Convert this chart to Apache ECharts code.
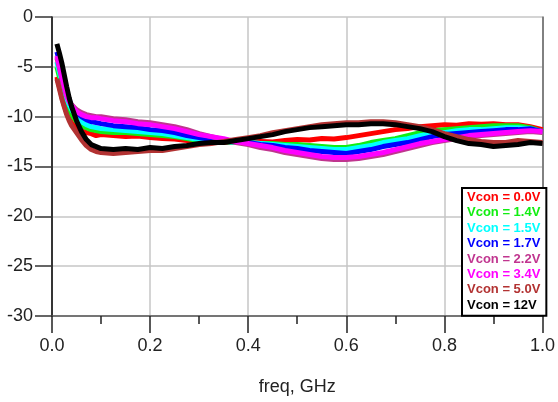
<!DOCTYPE html>
<html>
<head>
<meta charset="utf-8">
<script src="https://cdn.jsdelivr.net/npm/echarts@6/dist/echarts.min.js"></script>
<style>
  html, body { margin: 0; padding: 0; background: #fff; }
  #chart { width: 558px; height: 402px; }
</style>
</head>
<body>
<div id="chart"></div>
<script>
// frequency points, GHz
var freq = [0.01, 0.015, 0.02, 0.025, 0.03, 0.035, 0.04, 0.05, 0.06, 0.07, 0.08, 0.09, 0.1,
    0.125, 0.15, 0.175, 0.2, 0.225, 0.25, 0.275, 0.3, 0.325, 0.35, 0.375, 0.4,
    0.425, 0.45, 0.475, 0.5, 0.525, 0.55, 0.575, 0.6, 0.625, 0.65, 0.675, 0.7,
    0.725, 0.75, 0.775, 0.8, 0.825, 0.85, 0.875, 0.9, 0.925, 0.95, 0.975, 1.0];

// S-parameter (dB) per control voltage
var v00 = [-6.0, -7.0, -8.0, -8.9, -9.6, -10.2, -10.6, -11.1, -11.4, -11.6, -11.7, -11.9, -11.8,
    -11.9, -12.0, -11.95, -12.1, -12.2, -12.25, -12.4, -12.5, -12.45, -12.6, -12.6, -12.6,
    -12.5, -12.55, -12.4, -12.3, -12.35, -12.2, -12.25, -12.1, -11.9, -11.7, -11.5, -11.3,
    -11.2, -11.0, -10.9, -10.8, -10.85, -10.7, -10.75, -10.7, -10.8, -10.8, -11.0, -11.3];
var v14 = [-5.0, -6.0, -7.0, -7.9, -8.7, -9.3, -9.8, -10.5, -10.9, -11.1, -11.3, -11.4, -11.5,
    -11.6, -11.6, -11.7, -11.8, -11.9, -12.0, -12.2, -12.4, -12.5, -12.5, -12.6, -12.6,
    -12.7, -12.7, -12.8, -12.8, -12.9, -13.0, -13.1, -13.1, -12.9, -12.6, -12.4, -12.2,
    -11.9, -11.6, -11.4, -11.3, -11.2, -11.1, -11.0, -10.9, -10.9, -10.9, -11.1, -11.5];
var v15 = [-4.5, -5.5, -6.5, -7.4, -8.2, -8.8, -9.3, -10.0, -10.5, -10.8, -11.0, -11.1, -11.2,
    -11.3, -11.4, -11.5, -11.6, -11.7, -11.9, -12.1, -12.3, -12.4, -12.5, -12.6, -12.6,
    -12.7, -12.8, -12.9, -13.0, -13.1, -13.2, -13.3, -13.3, -13.1, -12.9, -12.6, -12.4,
    -12.2, -11.9, -11.7, -11.6, -11.4, -11.3, -11.3, -11.2, -11.1, -11.1, -11.2, -11.5];
var v17 = [-3.5, -4.4, -5.5, -6.6, -7.6, -8.3, -8.9, -9.6, -10.0, -10.3, -10.5, -10.6, -10.7,
    -10.9, -11.0, -11.1, -11.3, -11.4, -11.6, -11.9, -12.1, -12.3, -12.4, -12.5, -12.6,
    -12.8, -12.9, -13.1, -13.2, -13.4, -13.5, -13.6, -13.7, -13.5, -13.3, -13.0, -12.8,
    -12.6, -12.3, -12.0, -11.8, -11.7, -11.6, -11.5, -11.4, -11.3, -11.3, -11.2, -11.5];
var v22 = [-4.1, -5.1, -6.2, -7.1, -7.9, -8.4, -8.8, -9.3, -9.6, -9.8, -9.9, -10.0, -10.0,
    -10.2, -10.3, -10.5, -10.6, -10.8, -11.0, -11.3, -11.7, -12.0, -12.3, -12.6, -12.8,
    -13.1, -13.3, -13.6, -13.8, -14.0, -14.2, -14.3, -14.3, -14.2, -14.0, -13.8, -13.5,
    -13.2, -12.9, -12.6, -12.4, -12.2, -12.0, -11.9, -11.8, -11.7, -11.6, -11.5, -11.6];
var v34 = [-3.9, -4.9, -6.0, -7.0, -7.9, -8.5, -8.9, -9.5, -9.8, -10.0, -10.1, -10.1, -10.2,
    -10.4, -10.5, -10.7, -10.8, -11.0, -11.2, -11.5, -11.8, -12.0, -12.2, -12.5, -12.7,
    -12.9, -13.1, -13.4, -13.6, -13.8, -14.0, -14.1, -14.1, -14.0, -13.8, -13.6, -13.3,
    -13.0, -12.7, -12.5, -12.3, -12.1, -11.9, -11.8, -11.7, -11.6, -11.5, -11.4, -11.5];
var v50 = [-6.2, -7.2, -8.2, -9.0, -9.8, -10.4, -10.9, -11.6, -12.3, -12.9, -13.3, -13.5, -13.6,
    -13.7, -13.6, -13.5, -13.4, -13.4, -13.2, -13.0, -12.8, -12.7, -12.5, -12.3, -12.1,
    -11.9, -11.6, -11.4, -11.2, -11.0, -10.8, -10.7, -10.6, -10.6, -10.5, -10.5, -10.6,
    -10.8, -11.0, -11.3, -11.7, -12.0, -12.3, -12.5, -12.6, -12.6, -12.4, -12.5, -12.6];
var v12 = [-2.7, -3.6, -4.6, -5.8, -7.0, -8.1, -9.0, -10.4, -11.5, -12.3, -12.8, -13.0, -13.2,
    -13.3, -13.2, -13.3, -13.1, -13.2, -13.0, -12.9, -12.7, -12.6, -12.6, -12.4, -12.2,
    -12.0, -11.8, -11.5, -11.3, -11.1, -11.0, -10.9, -10.8, -10.8, -10.7, -10.7, -10.8,
    -11.0, -11.2, -11.5, -12.0, -12.4, -12.7, -12.8, -13.0, -12.9, -12.8, -12.6, -12.7];

var names = ['Vcon = 0.0V', 'Vcon = 1.4V', 'Vcon = 1.5V', 'Vcon = 1.7V',
    'Vcon = 2.2V', 'Vcon = 3.4V', 'Vcon = 5.0V', 'Vcon = 12V'];
var colors = ['#ff0000', '#11ee11', '#00ffff', '#0000ff',
    '#c0358f', '#ff00ff', '#b23232', '#000000'];
var values = [v00, v14, v15, v17, v22, v34, v50, v12];

var xTicks = [0, 0.2, 0.4, 0.6, 0.8, 1.0];
var yTicks = [-30, -25, -20, -15, -10, -5, 0];

function pairs(ys) {
    var out = [];
    for (var i = 0; i < freq.length; i++) {
        out.push([freq[i], ys[i]]);
    }
    return out;
}

var chart = echarts.init(document.getElementById('chart'));

var series = [];
var legendData = [];
for (var i = 0; i < names.length; i++) {
    series.push({
        name: names[i],
        type: 'line',
        showSymbol: false,
        symbol: 'none',
        color: colors[i],
        lineStyle: { width: 5, color: colors[i] },
        data: pairs(values[i])
    });
    legendData.push({ name: names[i], textStyle: { color: colors[i] } });
}

var option = {
    animation: false,
    textStyle: { fontFamily: 'Liberation Sans, Arial, sans-serif' },
    grid: { left: 52, right: 15, top: 17, bottom: 86 },
    legend: {
        orient: 'vertical',
        left: 462,
        top: 188,
        icon: 'none',
        itemWidth: 0,
        itemHeight: 15,
        itemGap: 0.4,
        padding: [2, 6, 3, 0],
        backgroundColor: '#fff',
        borderColor: '#000',
        borderWidth: 2,
        selectedMode: false,
        textStyle: { fontSize: 13, fontWeight: 'bold', lineHeight: 15 },
        data: legendData
    },
    xAxis: {
        type: 'value',
        position: 'bottom',
        min: xTicks[0],
        max: xTicks[xTicks.length - 1],
        interval: 0.2,
        name: 'freq, GHz',
        nameLocation: 'middle',
        nameGap: 62,
        nameTextStyle: { fontSize: 18, color: '#222' },
        axisLine: { show: true, onZero: false, lineStyle: { color: '#555', width: 1.5 } },
        axisTick: { show: true, inside: false, length: 17, lineStyle: { color: '#222', width: 1.5 } },
        minorTick: { show: true, splitNumber: 2, length: 8, lineStyle: { color: '#222', width: 1.5 } },
        axisLabel: {
            fontSize: 18, color: '#222', margin: 21, inside: false,
            formatter: function (v) { return v.toFixed(1); }
        },
        splitLine: { show: true, lineStyle: { color: '#c6c6c6', width: 1.5 } }
    },
    yAxis: [{
        type: 'value',
        position: 'left',
        min: yTicks[0],
        max: yTicks[yTicks.length - 1],
        interval: 5,
        axisLine: { show: true, onZero: false, lineStyle: { color: '#000', width: 1.5 } },
        axisTick: { show: true, inside: false, length: 17, lineStyle: { color: '#333', width: 1.5 } },
        axisLabel: { fontSize: 18, color: '#222', margin: 19 },
        splitLine: { show: true, lineStyle: { color: '#c6c6c6', width: 1.5 } }
    }, {
        type: 'value',
        position: 'right',
        min: yTicks[0],
        max: yTicks[yTicks.length - 1],
        interval: 5,
        axisLine: { show: true, onZero: false, lineStyle: { color: '#666', width: 1.5 } },
        axisTick: { show: false },
        axisLabel: { show: false },
        splitLine: { show: false }
    }],
    series: series
};

chart.setOption(option);
</script>
</body>
</html>
